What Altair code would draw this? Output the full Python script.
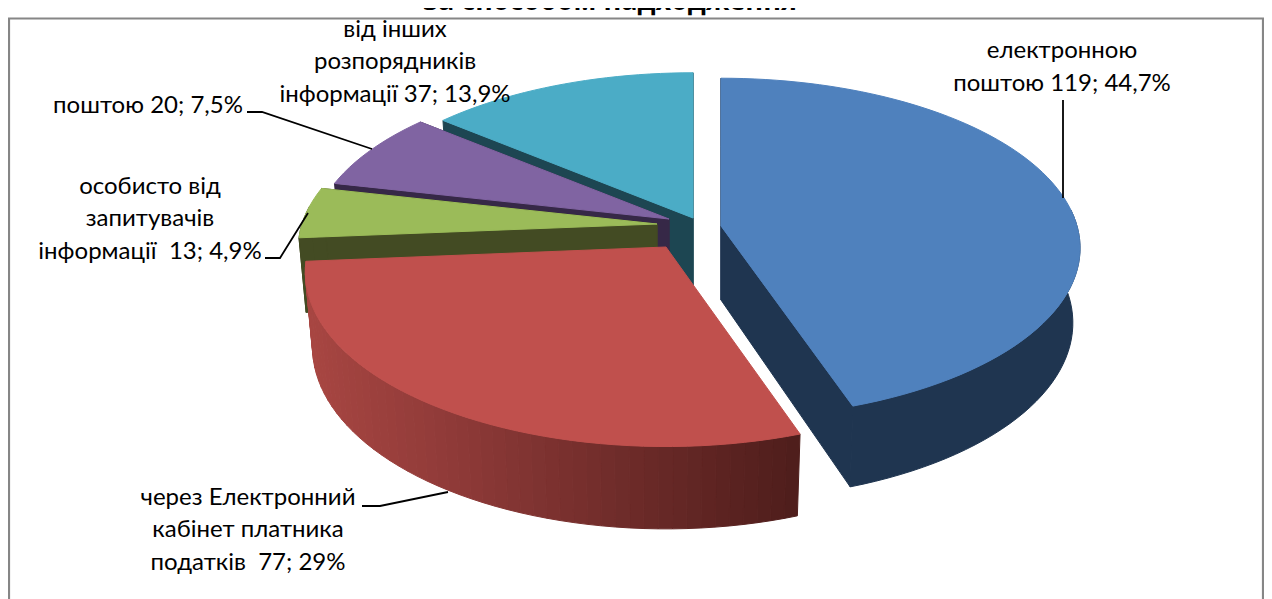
import math
import altair as alt
import pandas as pd

# ---- chart values -------------------------------------------------------
categories = ["електронною поштою", "через Електронний кабінет платника податків",
              "особисто від запитувачів інформації", "поштою",
              "від інших розпорядників інформації"]
values = [119, 77, 13, 20, 37]

# ---- label text -------------------------------------------------------
title_text = "за способом надходження"
label_lines = ["електронною", "поштою 119; 44,7%",
               "через Електронний", "кабінет платника", "податків\u00a0 77; 29%",
               "особисто від", "запитувачів", "інформації\u00a0 13; 4,9%",
               "поштою 20; 7,5%",
               "від інших", "розпорядників", "інформації 37; 13,9%"]

# ---- layout / style -----------------------------------------------------
W, H = 1256, 591          # the page's own 8px margin is taken off by the projection's translate
label_x = [1062, 1062, 248, 248, 248, 150, 150, 150, 148, 395, 395, 395]
label_y = [51, 84, 498, 530, 563, 187, 219, 252, 106, 30, 62, 95]
top_colors = ["#4f81bd", "#c0504d", "#9bbb59", "#8064a2", "#4bacc6"]
dark_colors = ["#1f3550", None, "#434b23", "#362847", "#1d4652"]
centers = [(721, 226), (666, 247), (657, 224), (669, 219), (693, 218)]
rx_list = [356, 357, 355, 354, 356]
ry_list = [167, 171, 165, 165, 166]
p_list = [0.13, 0.143, 0.143, 0.143, 0.143]
depth = 74
shrink = 0.98
leaders = [[(1063, 100), (1063, 198)],
           [(247, 112), (262, 112), (372, 149)],
           [(265, 258), (280, 258), (308, 213)],
           [(362, 506), (380, 506), (448, 492)]]
frame = [(9, 620), (9, 18.5), (1263, 18.5), (1263, 620)]


def red_wall(x):
    stops = [(305, (168, 70, 66)), (450, (143, 58, 56)), (640, (107, 42, 40)), (800, (78, 29, 27))]
    for (x0, c0), (x1, c1) in zip(stops, stops[1:]):
        if x <= x1:
            t = max(0.0, (x - x0) / (x1 - x0))
            return "#%02x%02x%02x" % tuple(round(a + (b - a) * t) for a, b in zip(c0, c1))
    return "#%02x%02x%02x" % stops[-1][1]


def poly(points, fill):
    ring = [list(p) for p in points] + [list(points[0])]
    return {"type": "Feature", "properties": {"fill": fill},
            "geometry": {"type": "Polygon", "coordinates": [ring]}}


def line(points):
    return {"type": "Feature", "properties": {},
            "geometry": {"type": "LineString", "coordinates": [list(p) for p in points]}}


total = sum(values)
spans = []
start = 0.0
for v in values:
    spans.append((start, start + v / total * 360))
    start += v / total * 360


def project(i, deg, radius=1.0, lower=False):
    cx, cy = centers[i]
    th = math.radians(deg)
    u, v = radius * math.sin(th), radius * math.cos(th)
    w = 1 + p_list[i] * v
    dx, dy = rx_list[i] * u / w, -ry_list[i] * v / w
    if lower:
        return (cx + shrink * dx, cy + shrink * dy + depth / w)
    return (cx + dx, cy + dy)


features = []
for i in [4, 3, 2, 1, 0]:
    a0, a1 = spans[i]
    n = max(4, int((a1 - a0) / 2))
    angles = [a0 + (a1 - a0) * k / n for k in range(n + 1)]
    front = [a for a in angles if math.cos(math.radians(a)) < 0.12]
    dark = dark_colors[i]
    # cut faces
    if dark:
        for a in (a0, a1):
            features.append(poly([project(i, a, 0), project(i, a),
                                  project(i, a, lower=True), project(i, a, 0, lower=True)], dark))
    # outer wall: one piece when flat-coloured, narrow strips when shaded
    if len(front) > 1:
        if dark:
            features.append(poly([project(i, a) for a in front] +
                                 [project(i, a, lower=True) for a in reversed(front)], dark))
        else:
            for b0, b1 in zip(front, front[1:]):
                fill = red_wall((project(i, b0)[0] + project(i, b1)[0]) / 2)
                features.append(poly([project(i, b0), project(i, b1),
                                      project(i, b1, lower=True), project(i, b0, lower=True)], fill))
    # top face
    features.append(poly([project(i, 0, 0)] + [project(i, a) for a in angles], top_colors[i]))

proj = alt.Projection(type="identity", scale=1, translate=[-8, -8]).to_dict()

faces = alt.Chart(alt.Data(values=features)).mark_geoshape(strokeWidth=1).encode(
    fill=alt.Fill("properties.fill:N", scale=None),
    stroke=alt.Stroke("properties.fill:N", scale=None),
).project(**proj)

lead = alt.Chart(alt.Data(values=[line(l) for l in leaders])).mark_geoshape(
    filled=False, stroke="#000000", strokeWidth=1.8).project(**proj)

border = alt.Chart(alt.Data(values=[line(frame)])).mark_geoshape(
    filled=False, stroke="#868686", strokeWidth=2.2).project(**proj)

labels_df = pd.DataFrame({"x": label_x, "y": label_y, "t": label_lines})
labels = alt.Chart(labels_df).mark_text(
    font="Lato", fontSize=24, color="#000000", align="center", baseline="middle"
).encode(longitude="x:Q", latitude="y:Q", text="t:N").project(**proj)

# the title is cut by the top edge of the picture, as in the reference
title_df = pd.DataFrame({"x": [610], "y": [9.5], "t": [title_text]})
title = alt.Chart(title_df).mark_text(
    font="Open Sans", fontSize=27, fontWeight="bold", color="#000000", align="center", baseline="alphabetic"
).encode(longitude="x:Q", latitude="y:Q", text="t:N").project(**proj)

chart = alt.layer(border, title, faces, lead, labels).properties(
    width=W, height=H, padding=0, autosize="none", background="#ffffff",
).configure_view(stroke=None)

chart.save("out.html", embed_options={"renderer": "svg", "actions": False})
